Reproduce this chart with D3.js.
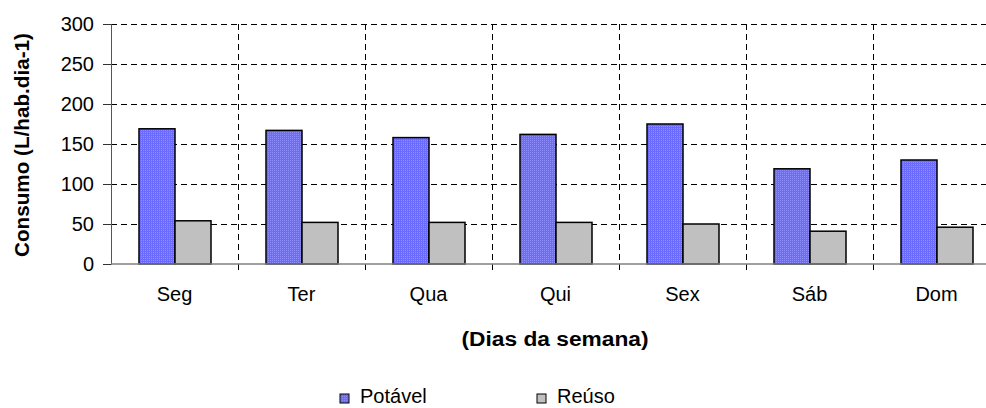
<!DOCTYPE html>
<html>
<head>
<meta charset="utf-8">
<script src="https://cdn.jsdelivr.net/npm/d3@7"></script>
<style>
  body { margin: 0; background: #fff; }
  svg { display: block; font-family: "Liberation Sans", Arial, sans-serif; }
  .grid line { stroke: #000; stroke-dasharray: 6,4; stroke-width: 1; }
</style>
</head>
<body>
<div id="chart-area"></div>
<script>
// data
var days = ["Seg", "Ter", "Qua", "Qui", "Sex", "Sáb", "Dom"];
var potavel = [169, 167, 158, 162, 175, 119, 130];
var reuso = [54, 52, 52, 52, 50, 41, 46];
var seriesNames = ["Potável", "Reúso"];
var yTicks = [0, 50, 100, 150, 200, 250, 300];

var margin = { left: 111, top: 24 },
    height = 240,
    width = 889; // plot runs past the right edge of the picture, as in the original

var svg = d3.select("#chart-area").append("svg")
    .attr("width", 986)
    .attr("height", 408);

// fill pattern for the blue bars (subtle, so it doesn't alias)
var defs = svg.append("defs");
var pat = defs.append("pattern")
    .attr("id", "dots")
    .attr("patternUnits", "userSpaceOnUse")
    .attr("width", 2)
    .attr("height", 2);
pat.append("rect").attr("width", 2).attr("height", 2).attr("fill", "#6b6bff");
pat.append("rect").attr("width", 1).attr("height", 1).attr("fill", "#8e8eff");

var colors = ["url(#dots)", "#c0c0c0"];

var g = svg.append("g")
    .attr("transform", "translate(" + margin.left + "," + margin.top + ")");

// Scales
var x0 = d3.scaleBand().domain(days).range([0, width]);
var barW = Math.round(x0.bandwidth() / 3.5);
var x1 = d3.scaleBand().domain(seriesNames).range([0, 2 * barW]);
var y = d3.scaleLinear().domain([0, 300]).range([height, 0]);

// horizontal grid
g.append("g").attr("class", "grid")
    .selectAll("line")
    .data(yTicks.filter(function(d) { return d > 0; }))
    .enter().append("line")
    .attr("x1", 0).attr("x2", width)
    .attr("y1", function(d) { return y(d) + 0.5; })
    .attr("y2", function(d) { return y(d) + 0.5; });

// vertical grid at category boundaries (running below the axis like tick marks)
g.append("g").attr("class", "grid")
    .selectAll("line")
    .data(days.slice(1))
    .enter().append("line")
    .attr("x1", function(d) { return Math.round(x0(d)) + 0.5; })
    .attr("x2", function(d) { return Math.round(x0(d)) + 0.5; })
    .attr("y1", 0).attr("y2", height + 6);

// Bars
var table = days.map(function(d, i) { return { day: d, values: [potavel[i], reuso[i]] }; });
var groups = g.selectAll(".day")
    .data(table)
    .enter().append("g")
    .attr("class", "day")
    .attr("transform", function(d) {
        return "translate(" + Math.round(x0(d.day) + x0.bandwidth() / 2 - barW) + ",0)";
    });

groups.selectAll("rect")
    .data(function(d) { return d.values; })
    .enter().append("rect")
    .attr("x", function(d, i) { return x1(seriesNames[i]); })
    .attr("width", barW)
    .attr("y", function(d) { return y(d); })
    .attr("height", function(d) { return height - y(d); })
    .attr("fill", function(d, i) { return colors[i]; })
    .attr("stroke", "#000")
    .attr("stroke-width", 1.5);

// Y axis
var yAxis = g.append("g")
    .call(d3.axisLeft(y).tickValues(yTicks).tickSize(8).tickPadding(9));
yAxis.select(".domain").attr("stroke", "#555");
yAxis.selectAll(".tick line").attr("stroke", "#333");
yAxis.selectAll("text")
    .attr("font-size", "20px")
    .attr("font-family", "Liberation Sans, Arial, sans-serif")
    .attr("fill", "#000");

// X axis (labels at category centres)
var xAxis = g.append("g")
    .attr("transform", "translate(0," + height + ")")
    .call(d3.axisBottom(x0).tickSize(0).tickPadding(23));
xAxis.select(".domain").remove();
xAxis.selectAll("text")
    .attr("font-size", "20px")
    .attr("font-family", "Liberation Sans, Arial, sans-serif")
    .attr("fill", "#000");

// baseline
g.append("line")
    .attr("x1", 0).attr("x2", width)
    .attr("y1", height).attr("y2", height)
    .attr("stroke", "#808080")
    .attr("stroke-width", 1.5);

// Axis titles
svg.append("text")
    .attr("transform", "translate(22," + (margin.top + height / 2 + 1) + ") rotate(-90)")
    .attr("text-anchor", "middle")
    .attr("dominant-baseline", "central")
    .attr("font-size", "20px")
    .attr("font-weight", "bold")
    .attr("textLength", 224)
    .attr("lengthAdjust", "spacingAndGlyphs")
    .text("Consumo (L/hab.dia-1)");

svg.append("text")
    .attr("x", 555)
    .attr("y", 346)
    .attr("text-anchor", "middle")
    .attr("font-size", "20px")
    .attr("font-weight", "bold")
    .attr("textLength", 187)
    .attr("lengthAdjust", "spacingAndGlyphs")
    .text("(Dias da semana)");

// Legend
var legendX = [340, 537];
var legend = svg.selectAll(".legend")
    .data(seriesNames)
    .enter().append("g")
    .attr("class", "legend")
    .attr("transform", function(d, i) { return "translate(" + legendX[i] + ",394)"; });

legend.append("rect")
    .attr("width", 9).attr("height", 9)
    .attr("fill", function(d, i) { return colors[i]; })
    .attr("stroke", "#000")
    .attr("stroke-width", 1);

legend.append("text")
    .attr("x", 20)
    .attr("y", 9)
    .attr("font-size", "20px")
    .text(function(d) { return d; });
</script>
</body>
</html>
